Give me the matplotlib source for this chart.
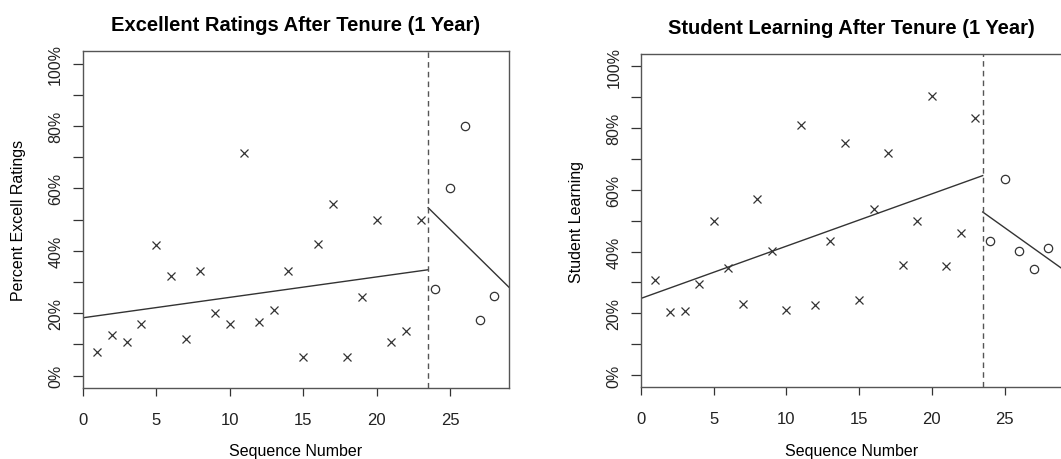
import matplotlib.pyplot as plt
from matplotlib.ticker import FixedLocator, FuncFormatter

plt.rcParams['font.family'] = ['Liberation Sans', 'DejaVu Sans']

# sequence numbers before / after tenure
seq_pre = [1, 2, 3, 4, 5, 6, 7, 8, 9, 10, 11, 12, 13, 14, 15, 16, 17, 18, 19, 20, 21, 22, 23]
seq_post = [24, 25, 26, 27, 28]
cutoff = 23.5

# excellent ratings (fraction)
excell_pre = [0.077, 0.130, 0.107, 0.166, 0.417, 0.320, 0.118, 0.334, 0.199, 0.166,
              0.714, 0.171, 0.210, 0.334, 0.059, 0.422, 0.549, 0.059, 0.251, 0.500,
              0.106, 0.143, 0.500]
excell_post = [0.278, 0.600, 0.801, 0.179, 0.256]
excell_fit_pre = ([0, 23.5], [0.185, 0.339])
excell_fit_post = ([23.5, 29], [0.538, 0.283])

# student learning (fraction)
learn_pre = [0.309, 0.204, 0.207, 0.295, 0.500, 0.347, 0.229, 0.571, 0.401, 0.212,
             0.809, 0.226, 0.434, 0.751, 0.242, 0.537, 0.720, 0.355, 0.500, 0.905,
             0.353, 0.461, 0.833]
learn_post = [0.434, 0.634, 0.401, 0.344, 0.411]
learn_fit_pre = ([0, 23.5], [0.248, 0.646])
learn_fit_post = ([23.5, 29], [0.528, 0.343])

ink = '#333333'


def panel(ax, pre, post, fit_pre, fit_post, title, ylabel):
    ax.plot(seq_pre, pre, linestyle='none', marker='x', ms=6, mew=0.9, color=ink)
    ax.plot(seq_post, post, linestyle='none', marker='o', ms=6, mew=0.9,
            mfc='none', mec=ink)
    ax.plot(*fit_pre, color=ink, lw=1.0)
    ax.plot(*fit_post, color=ink, lw=1.0)
    ax.axvline(cutoff, color='#555555', lw=1.0, ls=(0, (4, 3)))
    ax.set_xlim(0, 29)
    ax.set_ylim(-0.04, 1.04)
    ax.set_xticks([0, 5, 10, 15, 20, 25])
    ax.yaxis.set_major_locator(FixedLocator([0, 0.2, 0.4, 0.6, 0.8, 1.0]))
    ax.yaxis.set_minor_locator(FixedLocator([0.1, 0.3, 0.5, 0.7, 0.9]))
    ax.yaxis.set_major_formatter(FuncFormatter(lambda v, p: f'{v * 100:.0f}%'))
    ax.tick_params(axis='x', length=6, width=0.9, color=ink, labelsize=12,
                   labelcolor='#222222', pad=11)
    ax.tick_params(axis='y', which='both', length=7, width=0.9, color=ink,
                   labelsize=11.5, labelcolor='#222222', pad=7)
    for lab in ax.get_yticklabels():
        lab.set_rotation(90)
        lab.set_va('center')
    for s in ax.spines.values():
        s.set_color('#555555')
        s.set_linewidth(1.0)
    ax.set_title(title, fontsize=14.5, fontweight='bold', pad=15)
    ax.set_xlabel('Sequence Number', fontsize=11.5, labelpad=12)
    ax.set_ylabel(ylabel, fontsize=11.5, labelpad=16)


fig = plt.figure(figsize=(10.61, 4.60), dpi=100)
ax1 = fig.add_axes([0.0779, 0.1543, 0.4018, 0.7326])
ax2 = fig.add_axes([0.6041, 0.1559, 0.3975, 0.7245])

panel(ax1, excell_pre, excell_post, excell_fit_pre, excell_fit_post,
      'Excellent Ratings After Tenure (1 Year)', 'Percent Excell Ratings')
panel(ax2, learn_pre, learn_post, learn_fit_pre, learn_fit_post,
      'Student Learning After Tenure (1 Year)', 'Student Learning')

plt.savefig('out.png', dpi=100)
